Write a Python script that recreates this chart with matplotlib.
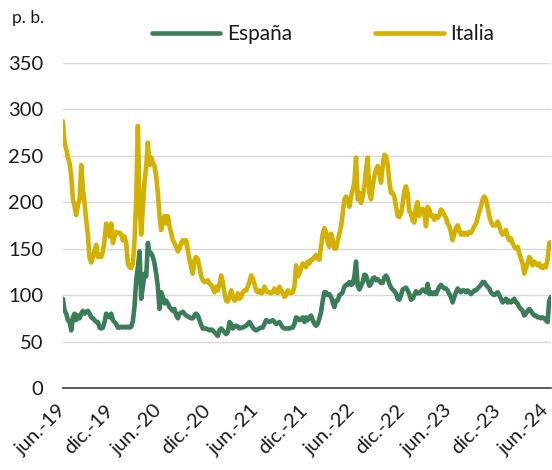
import matplotlib
matplotlib.use("Agg")
import matplotlib.pyplot as plt
import matplotlib.transforms as mtransforms
import pandas as pd

plt.rcParams['font.family'] = ['Lato', 'DejaVu Sans']

start_date = "2019-06-03"
end_date = "2024-06-18"

italia = [
    287, 264, 257, 248, 242, 228, 203, 195, 186, 197, 203, 240, 215, 199, 180, 165, 140, 135, 141, 148,
    154, 141, 143, 141, 147, 159, 177, 167, 163, 177, 156, 163, 168, 167, 167, 165, 159, 163, 156, 134,
    130, 129, 134, 159, 203, 282, 200, 165, 195, 221, 239, 264, 240, 248, 242, 239, 228, 210, 185, 170,
    181, 185, 177, 185, 174, 167, 159, 156, 152, 147, 150, 156, 159,
    156, 159, 148, 138, 130, 123, 138, 141, 138, 130, 120, 116, 114, 114, 116, 112, 111, 107, 103, 109,
    105, 112, 121, 114, 102, 94, 93, 98, 105, 98, 94, 96, 102, 96, 98, 103, 105, 105, 109, 114,
    121, 118, 112, 105, 103, 105, 102, 103, 109, 105, 103, 103, 102, 103, 107, 103, 102, 109, 105, 102,
    98, 100, 105, 103, 102, 103, 109, 132, 120, 123, 129, 134,
    132, 130, 136, 134, 138, 138, 141, 143, 139, 138, 152, 166, 172, 168, 156, 152, 166, 159, 150, 150,
    159, 166, 174, 188, 203, 206, 203, 195, 206, 213, 221, 248, 203, 210, 199, 206, 217, 235, 248, 210,
    203, 217, 228, 235, 239, 231, 221, 239, 251, 249, 240, 222, 210, 210, 206, 195, 185, 184, 188, 198,
    212, 217, 209, 190, 188, 180, 178, 195, 200, 185, 190, 193,
    188, 174, 195, 192, 185, 186, 181, 185, 183, 186, 192, 190, 186, 183, 177, 174, 168, 159, 166, 172,
    175, 170, 165, 167, 165, 167, 165, 168, 167, 170, 174, 177, 183, 190, 195, 203, 206, 203, 195, 185,
    179, 175, 175, 175, 179, 175, 168, 165, 167, 170, 163, 159, 161, 156, 152, 150, 152, 145, 139, 134,
    123, 129, 134, 141, 138, 132, 136, 134, 132, 134, 130, 129, 132, 130, 138, 156, 157,
]

espana = [
    96, 83, 80, 73, 71, 62, 76, 80, 73, 78, 75, 80, 83, 80, 82, 83, 80, 76, 75, 73,
    71, 71, 65, 64, 65, 71, 80, 78, 76, 80, 73, 71, 69, 65, 65, 66, 65, 66, 65, 66,
    65, 66, 72, 88, 116, 130, 147, 96, 109, 123, 120, 156, 145, 145, 141, 134, 123, 109, 85, 103,
    98, 91, 94, 91, 87, 85, 83, 85, 78, 75, 80, 81, 82,
    80, 78, 77, 76, 75, 75, 78, 80, 78, 73, 68, 64, 64, 64, 63, 62, 63, 62, 60, 58,
    56, 62, 64, 62, 60, 58, 60, 71, 69, 64, 66, 67, 66, 64, 65, 65, 66, 67, 69, 71,
    68, 65, 63, 62, 63, 64, 65, 65, 69, 73, 72, 71, 72, 73, 71, 69, 70, 71, 68, 65,
    64, 64, 64, 64, 65, 65, 69, 76, 75, 73, 74, 76,
    71, 76, 73, 76, 78, 73, 69, 67, 69, 75, 82, 94, 103, 103, 100, 101, 98, 92, 87, 94,
    94, 100, 101, 103, 109, 111, 111, 114, 111, 112, 120, 136, 110, 106, 110, 114, 122, 121, 115, 110,
    112, 118, 119, 116, 117, 115, 113, 113, 119, 121, 118, 112, 108, 106, 104, 102, 96, 95, 100, 106,
    107, 108, 105, 101, 95, 96, 100, 104, 102, 102, 104, 106,
    105, 103, 112, 101, 103, 101, 103, 101, 105, 109, 111, 109, 107, 107, 105, 101, 98, 92, 98, 103,
    107, 105, 103, 105, 105, 103, 105, 103, 101, 103, 105, 105, 107, 109, 111, 114, 114, 111, 109, 107,
    103, 101, 100, 101, 103, 100, 96, 92, 94, 96, 92, 94, 92, 94, 96, 92, 91, 87, 85, 83,
    78, 80, 83, 85, 83, 80, 78, 78, 76, 76, 75, 76, 75, 73, 71, 94, 98,
]

tick_labels = ["jun.-19", "dic.-19", "jun.-20", "dic.-20", "jun.-21", "dic.-21",
               "jun.-22", "dic.-22", "jun.-23", "dic.-23", "jun.-24"]
tick_dates = ["2019-06-03", "2019-12-01", "2020-06-01", "2020-12-01", "2021-06-01", "2021-12-01",
              "2022-06-01", "2022-12-01", "2023-06-01", "2023-12-01", "2024-06-01"]
y_ticks = [0, 50, 100, 150, 200, 250, 300, 350]

n = min(len(italia), len(espana))
dates = pd.date_range(start_date, end_date, periods=n)

GREEN = "#3B7D58"
YELLOW = "#D4B000"

fig = plt.figure(figsize=(5.52, 4.70), dpi=100)
ax = fig.add_axes([0.114, 0.1745, 0.884, 0.692])

l1, = ax.plot(dates, espana[:n], color=GREEN, lw=3.3, solid_capstyle='round',
              solid_joinstyle='round', label="España", zorder=3)
l2, = ax.plot(dates, italia[:n], color=YELLOW, lw=3.3, solid_capstyle='round',
              solid_joinstyle='round', label="Italia", zorder=3)

ax.set_ylim(0, 350)
ax.set_yticks(y_ticks)
ax.set_xlim(dates[0], dates[-1])
ax.set_xticks(pd.to_datetime(tick_dates))
ax.set_xticklabels(tick_labels, rotation=45, ha='right', rotation_mode='anchor')

ax.grid(axis='y', color='#d9d9d9', lw=1.0, zorder=0)
ax.set_axisbelow(True)
for s in ['top', 'right', 'left']:
    ax.spines[s].set_visible(False)
ax.spines['bottom'].set_color('#404040')
ax.spines['bottom'].set_linewidth(1.2)
ax.spines['bottom'].set_zorder(1)
ax.tick_params(axis='both', length=0, labelsize=14.5, colors='#1a1a1a')
ax.tick_params(axis='y', pad=14)
ax.tick_params(axis='x', pad=6)

offset = mtransforms.ScaledTranslation(-6 / 100, -5 / 100, fig.dpi_scale_trans)
for lab in ax.get_xticklabels():
    lab.set_transform(lab.get_transform() + offset)

fig.text(0.022, 0.962, "p. b.", fontsize=12.5, va='center', ha='left', color='#1a1a1a')

leg = fig.legend(handles=[l1, l2], loc='center', bbox_to_anchor=(0.585, 0.928), ncol=2,
                 frameon=False, fontsize=15, handlelength=3.3, handletextpad=0.3,
                 columnspacing=4.0, borderaxespad=0)
for t in leg.get_texts():
    t.set_color('#1a1a1a')

fig.savefig("out.png", dpi=100)
